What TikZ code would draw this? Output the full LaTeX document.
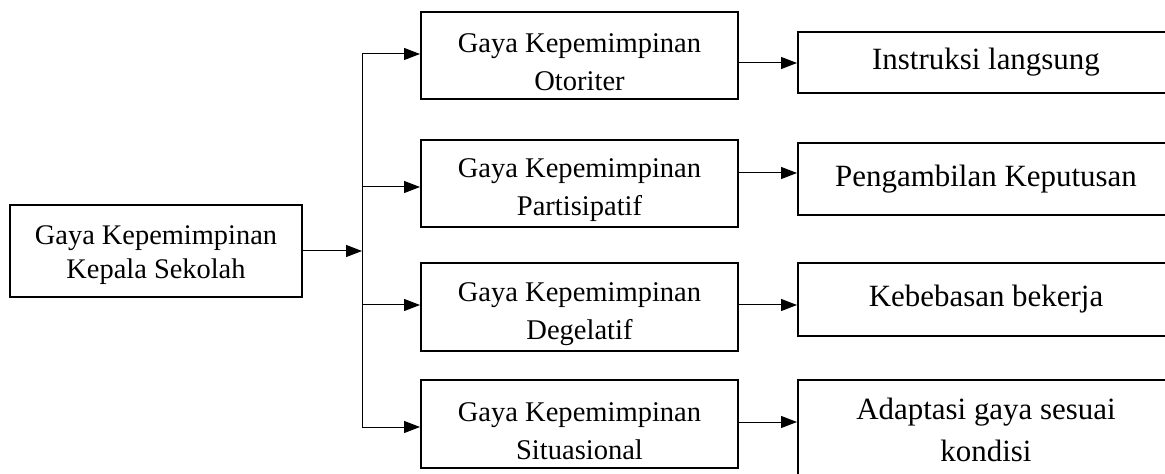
\documentclass[tikz,border=0pt]{standalone}
\usepackage{fontspec}
\setmainfont{Liberation Serif}
\usetikzlibrary{arrows.meta}

% extra room above the first line
\newcommand{\uplift}[1]{\rule{0pt}{#1}}

\tikzset{
  box/.style={draw, line width=1.5pt, align=center, inner sep=2pt},
  leftbox/.style={box, minimum width=219pt, minimum height=69pt, font=\fontsize{21.3}{25.5}\selectfont},
  stylebox/.style={box, minimum width=237.75pt, minimum height=65.5pt, font=\fontsize{21.4}{28.7}\selectfont},
  aspectbox/.style={box, minimum width=282pt, font=\fontsize{23.2}{31.9}\selectfont},
  arr/.style={line width=0.75pt, -{Triangle[length=12pt,width=9pt]}}
}

\begin{document}
\begin{tikzpicture}[x=0.75pt,y=0.75pt,yscale=-1,xscale=1]
\useasboundingbox (0,0) rectangle (1165,474);
\clip (0,0) rectangle (1165,474);

% Left box
\node [leftbox] (kepsek) at (156,251) {\uplift{20pt}Gaya Kepemimpinan\\Kepala Sekolah};

% Middle boxes
\node [stylebox] (m1) at (579.5,55.5) {\uplift{24.5pt}Gaya Kepemimpinan\\Otoriter};
\node [stylebox] (m2) at (579.5,183.5) {\uplift{24.5pt}Gaya Kepemimpinan\\Partisipatif};
\node [stylebox] (m3) at (579.5,307) {\uplift{24.5pt}Gaya Kepemimpinan\\Degelatif};
\node [stylebox] (m4) at (579.5,424) {\uplift{24.5pt}Gaya Kepemimpinan\\Situasional};

% Right boxes
\node [aspectbox, minimum height=45.75pt] (r1) at (986,62.5) {Instruksi langsung};
\node [aspectbox, minimum height=54pt] (r2) at (986,179) {Pengambilan Keputusan};
\node [aspectbox, minimum height=54.75pt] (r3) at (986,299.5) {Kebebasan bekerja};
\node [aspectbox, minimum height=75pt] (r4) at (986,430) {Adaptasi gaya sesuai\\kondisi};

% Bus line
\coordinate (bus) at (362,250);
\draw [arr] (kepsek.east) -- (kepsek.east -| bus);
\draw [line width=0.75pt] (bus |- 0,54) -- (bus |- 0,427);

% Branch arrows
\foreach \i/\y in {1/54,2/187,3/305,4/427}
  \draw [arr] (bus |- 0,\y) -- (m\i.west |- 0,\y);

% Output arrows
\foreach \i/\y in {1/63,2/173,3/305,4/422}
  \draw [arr] (m\i.east |- 0,\y) -- (r\i.west |- 0,\y);

\end{tikzpicture}
\end{document}
